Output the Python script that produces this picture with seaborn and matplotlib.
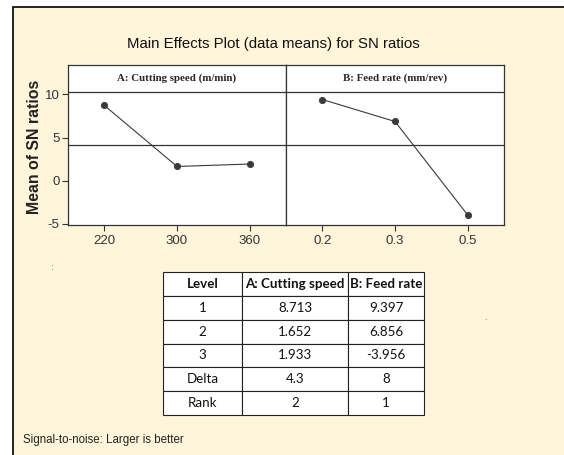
import numpy as np
import pandas as pd
import matplotlib
matplotlib.use("Agg")
import matplotlib.pyplot as plt
from matplotlib.patches import Rectangle
import seaborn as sns

sns.set_theme(style="white")
plt.rcParams['font.family'] = ['DejaVu Sans']
plt.rcParams['axes.unicode_minus'] = False

# ---- data ----
factor_a_name = "A: Cutting speed (m/min)"
factor_b_name = "B: Feed rate (mm/rev)"
levels_a = ["220", "300", "360"]
levels_b = ["0.2", "0.3", "0.5"]
sn_a = [8.713, 1.652, 1.933]
sn_b = [9.397, 6.856, -3.956]
yticks = [-5, 0, 5, 10]

table_header = ["Level", "A: Cutting speed", "B: Feed rate"]
table_levels = ["1", "2", "3", "Delta", "Rank"]
table_a = ["8.713", "1.652", "1.933", "4.3", "2"]
table_b = ["9.397", "6.856", "-3.956", "8", "1"]

title = "Main Effects Plot (data means) for SN ratios"
ylabel = "Mean of SN ratios"
footer = "Signal-to-noise: Larger is better"

BG = "#FFF5DA"
W, H = 564, 455
fig = plt.figure(figsize=(W / 100, H / 100), dpi=100)
fig.patch.set_facecolor("white")

def fx(px):
    return px / W

def fy(py):
    return 1 - py / H

# cream panel with black left/top border
fig.patches.append(Rectangle((fx(13), -0.01), 1.02 - fx(13), fy(7) + 0.01,
                             transform=fig.transFigure, facecolor=BG,
                             edgecolor="black", linewidth=1.2, zorder=-10))

grand_mean = float(np.mean(sn_a))
ylo, yhi = -5.12, 13.39
strip_y = 10.23

axes = []
panels = [(68, factor_a_name, levels_a, sn_a), (286, factor_b_name, levels_b, sn_b)]
for left_px, name, levels, vals in panels:
    ax = fig.add_axes([fx(left_px), fy(225), fx(218), fy(65) - fy(225)])
    ax.set_zorder(5)
    ax.set_facecolor("white")
    df = pd.DataFrame({"level": levels, "value": vals})
    sns.pointplot(data=df, x="level", y="value", order=levels, ax=ax,
                  color="#3a3a3a", markersize=4.5, linewidth=0.8,
                  errorbar=None)
    ax.set_xlim(-0.5, len(levels) - 0.5)
    ax.set_ylim(ylo, yhi)
    ax.axhline(grand_mean, color="#333333", lw=0.9)
    ax.axhline(strip_y, color="#333333", lw=0.9)
    ax.text(0.5, (yhi + strip_y) / 2, name, transform=ax.get_yaxis_transform(),
            ha="center", va="center", fontsize=7.8, fontweight="bold",
            family="Liberation Serif")
    ax.set_xlabel("")
    ax.set_ylabel("")
    for s in ax.spines.values():
        s.set_color("#333333")
        s.set_linewidth(0.9)
    ax.tick_params(axis="x", bottom=True, length=4, width=0.8, color="#333333",
                   labelsize=9.5, labelcolor="#333333", pad=3)
    axes.append(ax)

ax1, ax2 = axes
ax1.set_yticks(yticks)
ax1.tick_params(axis="y", left=True, length=4, width=0.8, color="#333333",
                labelsize=9.5, labelcolor="#333333", pad=2)
ax2.set_yticks(yticks)
ax2.tick_params(axis="y", left=False, labelleft=False)
for t in ax1.get_xticklabels() + ax2.get_xticklabels() + ax1.get_yticklabels():
    t.set_family("Liberation Sans")

fig.text(fx(35), fy(147), ylabel, rotation=90, ha="center", va="center",
         fontsize=11.4, fontweight="bold", family="Liberation Sans", color="#222222")
fig.text(fx(273), fy(44), title, ha="center", va="center", fontsize=10.8,
         family="Liberation Sans", color="#111111")

# table
tax = fig.add_axes([fx(163), fy(415), fx(261), fy(272) - fy(415)])
tax.set_zorder(5)
tax.axis("off")
cell_text = [[l, a, b] for l, a, b in zip(table_levels, table_a, table_b)]
tbl = tax.table(cellText=cell_text, colLabels=table_header, loc="center",
                cellLoc="center", bbox=[0, 0, 1, 1],
                colWidths=[79 / 261, 106 / 261, 76 / 261])
tbl.auto_set_font_size(False)
for (r, c), cell in tbl.get_celld().items():
    cell.set_facecolor("white")
    cell.set_edgecolor("#222222")
    cell.set_linewidth(0.8)
    txt = cell.get_text()
    txt.set_fontsize(9.6)
    txt.set_family("Lato")
    txt.set_color("#111111")
    if r == 0:
        txt.set_fontweight("bold")

fig.text(fx(23), fy(440), footer, ha="left", va="center", fontsize=8.3,
         family="Liberation Sans", color="#222222")
fig.text(fx(52), fy(268), ":", ha="center", va="center", fontsize=6, color="#555555")
fig.text(fx(485), fy(318), ".", ha="center", va="center", fontsize=6, color="#555555")

fig.savefig("out.png", dpi=100, facecolor=fig.get_facecolor())
